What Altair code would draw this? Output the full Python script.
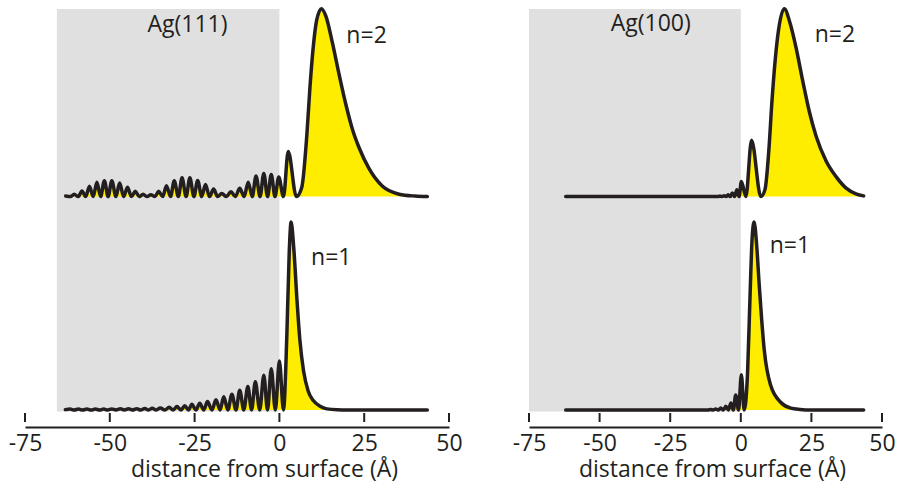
import altair as alt
import pandas as pd

# ---------------------------------------------------------------
# Data: x = distance from surface (Å),
# v = probability density in % of each state's maximum.
# ---------------------------------------------------------------
surfaces = ["Ag(111)", "Ag(100)"]
states = ["n=1", "n=2"]

ag111_n2_x = [-63.0, -61.6, -60.5, -59.3, -58.2, -57.1, -56.0, -54.9, -53.8, -52.7,
              -51.6, -50.5, -49.4, -48.2, -47.1, -45.9, -44.8, -43.6, -42.5, -41.3,
              -40.2, -39.0, -37.9, -36.7, -35.6, -34.4, -33.3, -32.1, -31.0, -29.8,
              -28.7, -27.5, -26.4, -25.2, -24.1, -22.9, -21.8, -20.6, -19.4, -18.2,
              -17.0, -15.6, -14.3, -13.0, -11.7, -10.4, -9.2, -8.0, -6.9, -5.7,
              -4.6, -3.5, -2.4, -1.3, -0.2, 1.2, 2.6, 5.0, 6.6, 8.1,
              9.0, 10.0, 11.0, 12.4, 13.7, 15.6, 17.6, 19.6, 21.5, 23.5,
              26.4, 30.4, 35.3, 40.0, 43.6]
ag111_n2_v = [0.3, 0, 1.2, 0, 3.0, 0, 5.5, 0, 7.6, 0,
              8.5, 0, 8.5, 0, 7.2, 0, 5.0, 0, 2.8, 0,
              1.2, 0, 1.0, 0, 2.8, 0, 5.8, 0, 8.4, 0,
              10.0, 0, 10.0, 0, 8.6, 0, 6.5, 0, 4.0, 0,
              1.6, 0, 2.6, 0, 4.4, 0, 7.7, 0, 11.0, 0,
              12.3, 0, 11.8, 0, 10.4, 0, 24.0, 0, 5.0, 33.0,
              58.0, 80.0, 94.0, 100.0, 96.0, 82.0, 65.0, 49.0, 36.0, 26.0,
              15.0, 5.5, 1.3, 0.3, 0]

ag111_n1_x = [-63.1, -61.7, -60.5, -59.2, -58.0, -56.7, -55.5, -54.3, -53.0, -51.8,
              -50.6, -49.4, -48.2, -46.9, -45.7, -44.5, -43.3, -42.1, -40.9, -39.7,
              -38.6, -37.5, -36.3, -35.1, -33.8, -32.5, -31.3, -30.2, -29.0, -27.9,
              -26.8, -25.8, -24.6, -23.5, -22.3, -21.2, -19.9, -18.7, -17.5, -16.4,
              -15.2, -14.0, -12.8, -11.7, -10.5, -9.3, -8.2, -7.1, -5.8, -4.6,
              -3.5, -2.4, -1.2, 0.0, 1.2, 2.2, 2.9, 3.45, 4.2, 5.2,
              6.0, 7.1, 8.5, 10.0, 12.0, 14.0, 17.0, 20.0, 43.6]
ag111_n1_v = [0.2, 0.5, 0, 0.5, 0, 0.5, 0, 0.5, 0, 0.5,
              0, 0.55, 0, 0.6, 0, 0.65, 0, 0.7, 0, 0.8,
              0, 0.9, 0, 1.1, 0, 1.4, 0, 1.8, 0, 2.3,
              0, 3.0, 0, 3.6, 0, 4.5, 0, 5.4, 0, 7.0,
              0, 8.4, 0, 10.5, 0, 12.5, 0, 15.0, 0, 18.5,
              0, 22.0, 0, 26.0, 0, 40.0, 84.0, 100.0, 87.0, 58.0,
              38.0, 21.0, 10.0, 5.0, 2.0, 0.6, 0.1, 0, 0]

ag100_n2_x = [-62.0, -40.0, -20.0, -10.0, -8.1, -7.4, -6.6, -5.9, -5.2, -4.5,
              -3.75, -3.0, -2.2, -1.4, -0.6, 0.2, 1.8, 3.8, 7.1, 8.6,
              9.9, 11.0, 12.2, 13.4, 15.4, 17.3, 19.6, 22.0, 24.3, 26.7,
              30.2, 33.8, 37.3, 41.0, 43.5]
ag100_n2_v = [0, 0, 0, 0, 0, 0.3, 0, 0.5, 0, 1.0,
              0, 1.9, 0, 3.7, 0, 8.0, 0, 30.0, 0, 4.0,
              24.0, 50.0, 73.0, 89.0, 100.0, 93.0, 79.0, 61.0, 45.0, 32.0,
              19.0, 10.5, 4.5, 1.3, 0.4]

ag100_n1_x = [-62.0, -40.0, -20.0, -11.6, -10.7, -9.8, -8.9, -8.0, -7.1, -6.2,
              -5.3, -4.4, -3.5, -2.65, -1.8, -0.8, 0.2, 1.2, 2.4, 3.3,
              4.0, 4.7, 5.6, 6.5, 7.4, 8.3, 10.6, 14.2, 17.7, 21.0,
              25.0, 43.5]
ag100_n1_v = [0, 0, 0, 0, 0.3, 0, 0.5, 0, 1.0, 0,
              2.0, 0, 3.7, 0, 8.0, 0, 18.7, 0, 20.0, 62.0,
              91.0, 100.0, 88.0, 67.0, 48.0, 32.0, 13.0, 4.0, 1.0, 0.3,
              0, 0]

metal_start = [-65.6, -75.0]   # left edge of the grey (metal) region per surface
metal_end = [0.0, 0.0]
tick_values = [-75, -50, -25, 0, 25, 50]

# ---------------------------------------------------------------
frames = []
for surf, st, xs, vs in [
    ("Ag(111)", "n=2", ag111_n2_x, ag111_n2_v),
    ("Ag(111)", "n=1", ag111_n1_x, ag111_n1_v),
    ("Ag(100)", "n=2", ag100_n2_x, ag100_n2_v),
    ("Ag(100)", "n=1", ag100_n1_x, ag100_n1_v),
]:
    frames.append(pd.DataFrame({"x": xs, "v": vs, "surface": surf, "state": st}))
curves = pd.concat(frames, ignore_index=True)

N2_BASE = 113.5          # vertical stacking offset of the n=2 trace
Y_MIN, Y_MAX = -1.064, 215.43
PLOT_H = 407
INK = "#231F20"
FONT = "Open Sans"

yscale = alt.Scale(domain=[Y_MIN, Y_MAX], nice=False, zero=False)
xscale = alt.Scale(domain=[-75, 50], nice=False, zero=False)


def xenc(title_x, field="x"):
    return alt.X(f"{field}:Q", scale=xscale,
                 axis=alt.Axis(values=tick_values, title="distance from surface (Å)",
                               ticks=False, offset=15, labelPadding=5, titlePadding=3,
                               titleX=title_x, titleAlign="center",
                               labelFlush=False, labelOverlap=False,
                               labelExpr="'' + datum.value"))


def panel(i, width, title_x, labels):
    surf = surfaces[i]
    gray_df = pd.DataFrame({"x": [metal_start[i]], "x2": [metal_end[i]],
                            "y": [-0.8], "y2": [213.3]})
    gray = alt.Chart(gray_df).mark_rect(color="#E0E0E0").encode(
        x=xenc(title_x), x2="x2:Q",
        y=alt.Y("y:Q", scale=yscale, axis=None), y2="y2:Q")

    base = alt.Chart(curves[curves.surface == surf]).transform_calculate(
        base=f"datum.state == 'n=2' ? {N2_BASE} : 0",
        top=f"datum.v + (datum.state == 'n=2' ? {N2_BASE} : 0)")
    area = base.mark_area(color="#FFED00", interpolate="monotone").encode(
        x=xenc(title_x), y=alt.Y("top:Q", scale=yscale, axis=None), y2="base:Q",
        detail="state:N")
    line = base.mark_line(color=INK, strokeWidth=3.5, interpolate="monotone",
                          strokeJoin="round", strokeCap="round").encode(
        x=xenc(title_x), y=alt.Y("top:Q", scale=yscale, axis=None), detail="state:N")

    ticks = alt.Chart(pd.DataFrame({"x": tick_values})).mark_rule(
        color=INK, strokeWidth=2).encode(
        x=xenc(title_x), y=alt.value(PLOT_H + 1), y2=alt.value(PLOT_H + 10))

    txt = alt.Chart(pd.DataFrame(labels)).mark_text(
        font=FONT, fontSize=23, color=INK, align="center", baseline="middle").encode(
        x=xenc(title_x), y=alt.Y("y:Q", scale=yscale, axis=None), text="label:N")

    return alt.layer(gray, area, line, ticks, txt).properties(width=width, height=PLOT_H)


left = panel(0, 424, 239, {"x": [-27.1, 25.7, 15.3], "y": [204.8, 198.9, 80.9],
                           "label": ["Ag(111)", "n=2", "n=1"]})
right = panel(1, 353, 183, {"x": [-31.9, 33.3, 17.4], "y": [205.3, 199.5, 87.2],
                            "label": ["Ag(100)", "n=2", "n=1"]})

chart = alt.hconcat(left, right, spacing=80, bounds="flush").properties(
    padding={"left": 8, "top": 5, "right": 0, "bottom": 0}
).configure_view(stroke=None).configure_axis(
    grid=False, domainColor=INK, domainWidth=2,
    labelFont=FONT, labelFontSize=23, labelColor=INK,
    titleFont=FONT, titleFontSize=23, titleFontWeight="normal", titleColor=INK,
)

chart.save("out.html", embed_options={"renderer": "svg", "actions": False})
